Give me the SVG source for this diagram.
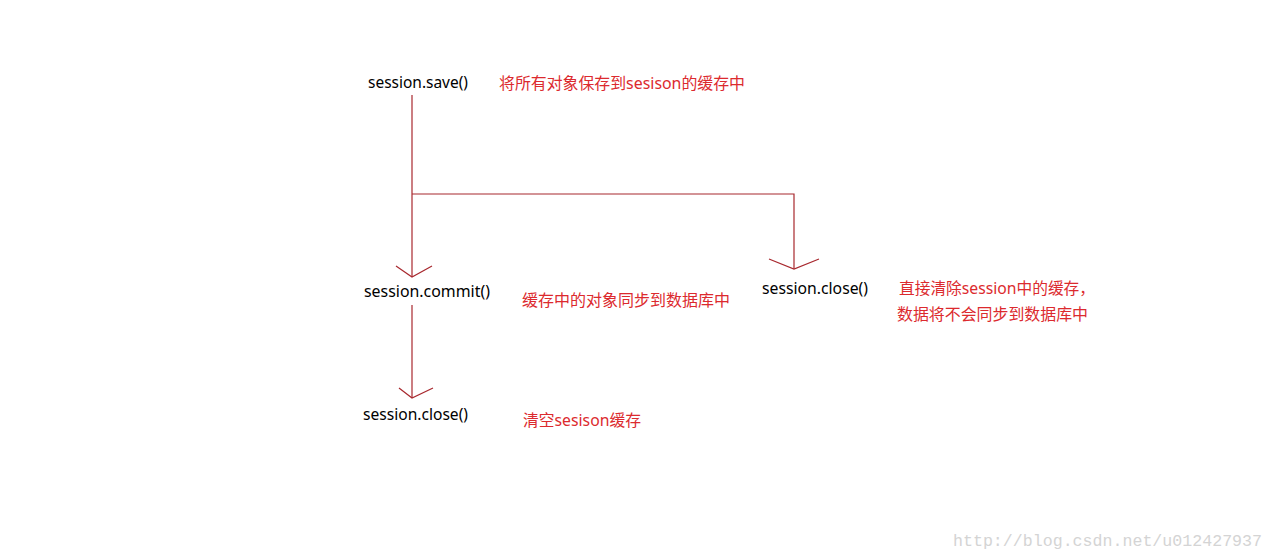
<svg xmlns="http://www.w3.org/2000/svg" width="1273" height="560" viewBox="0 0 1273 560">
<style>
.bg{fill:#ffffff}
.node{font-family:"Noto Sans","Noto Sans CJK SC",sans-serif;font-size:16px;fill:#000000}
.note{font-family:"Noto Sans","Noto Sans CJK SC",sans-serif;font-size:16px;fill:#dc2a2e}
.wire{fill:none;stroke:#a8282e;stroke-width:1.2}
.wm{font-family:"Liberation Mono",monospace;font-size:16.5px;fill:#d4d4d4}
</style>
<rect class="bg" x="0" y="0" width="1273" height="560"/>
<g id="connectors">
<path class="wire" d="M412 95 V277"/>
<path class="wire" d="M396 266 L412 277 L432 266"/>
<path class="wire" d="M412 194 H794 V269"/>
<path class="wire" d="M769 259 L794 269 L819 259"/>
<path class="wire" d="M412 305 V398"/>
<path class="wire" d="M399 388 L412 398 L433 388"/>
</g>
<g id="node-save">
<text class="node" x="368" y="88" textLength="100" lengthAdjust="spacingAndGlyphs">session.save()</text>
<text class="note" x="499" y="89" textLength="246" lengthAdjust="spacingAndGlyphs">将所有对象保存到sesison的缓存中</text>
</g>
<g id="node-commit">
<text class="node" x="364" y="297" textLength="126" lengthAdjust="spacingAndGlyphs">session.commit()</text>
<text class="note" x="522" y="306" textLength="208" lengthAdjust="spacingAndGlyphs">缓存中的对象同步到数据库中</text>
</g>
<g id="node-close-left">
<text class="node" x="363" y="420" textLength="105" lengthAdjust="spacingAndGlyphs">session.close()</text>
<text class="note" x="523" y="426" textLength="118" lengthAdjust="spacingAndGlyphs">清空sesison缓存</text>
</g>
<g id="node-close-right">
<text class="node" x="762" y="294" textLength="106" lengthAdjust="spacingAndGlyphs">session.close()</text>
<text class="note" x="899" y="294" textLength="196" lengthAdjust="spacingAndGlyphs">直接清除session中的缓存，</text>
<text class="note" x="897" y="320" textLength="191" lengthAdjust="spacingAndGlyphs">数据将不会同步到数据库中</text>
</g>
<text class="wm" x="953" y="546" textLength="309" lengthAdjust="spacingAndGlyphs">http://blog.csdn.net/u012427937</text>
</svg>
